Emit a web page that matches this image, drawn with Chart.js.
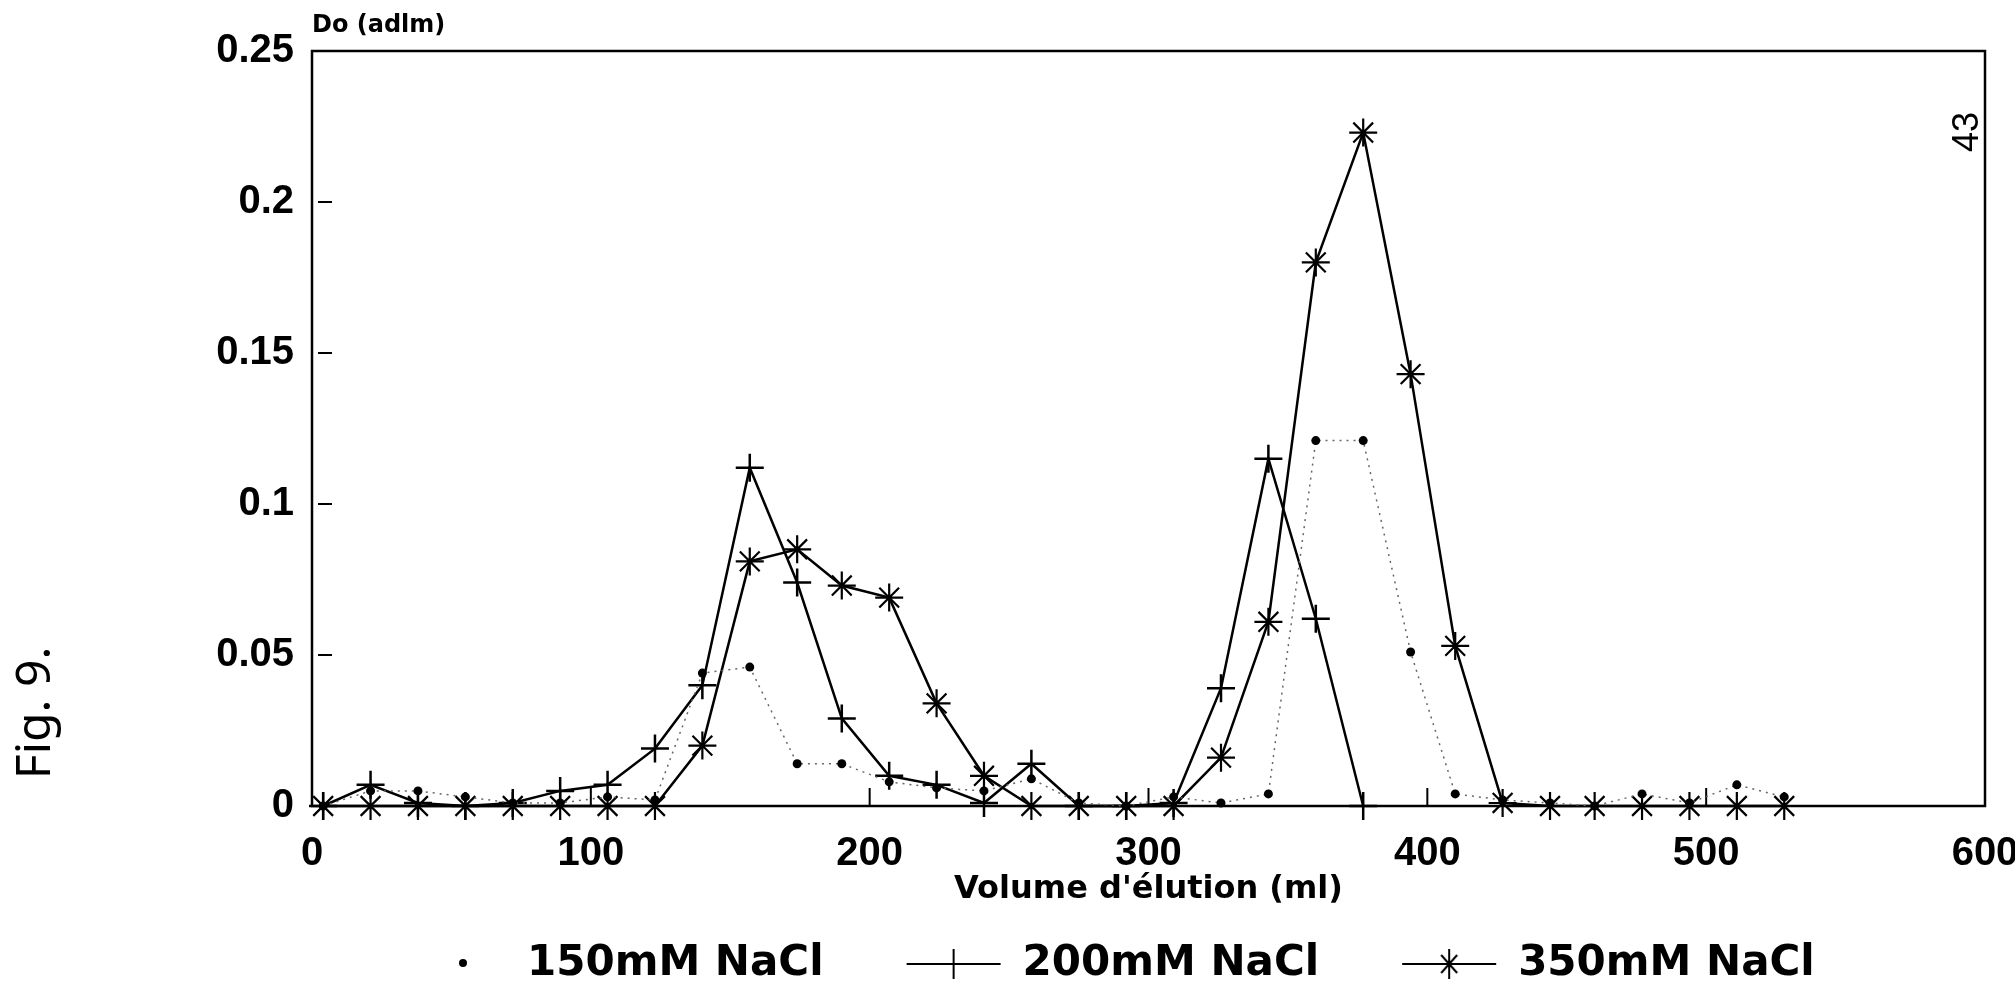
<!DOCTYPE html>
<html>
<head>
<meta charset="utf-8">
<title>Fig. 9 - Volume d'élution</title>
<script src="https://cdn.jsdelivr.net/npm/chart.js@4.4.0/dist/chart.umd.min.js"></script>
<style>
    html, body { margin: 0; padding: 0; background: #fff; overflow: hidden; }
    #wrap { position: absolute; left: 0; top: 0; width: 2060px; height: 997px; }
</style>
</head>
<body>
<div id="wrap"><canvas id="elutionChart"></canvas></div>
<script>
// Elution volume of each collected fraction (ml)
const volumes = [4, 21, 38, 55, 72, 89, 106, 123, 140, 157, 174, 190, 207, 224, 241, 258,
                 275, 292, 309, 326, 343, 360, 377, 394, 410, 427, 444, 460, 477, 494, 511, 528];

// Optical density (Do, adim)
const od150 = [0, 0.005, 0.005, 0.003, 0.001, 0.001, 0.003, 0.002, 0.044, 0.046, 0.014, 0.014, 0.008, 0.006, 0.005, 0.009,
               0.001, 0, 0.003, 0.001, 0.004, 0.121, 0.121, 0.051, 0.004, 0.002, 0.001, 0, 0.004, 0.001, 0.007, 0.003];
const od200 = [0, 0.007, 0.001, 0, 0.001, 0.005, 0.007, 0.019, 0.040, 0.112, 0.074, 0.029, 0.010, 0.007, 0.001, 0.014,
               0, 0, 0.001, 0.039, 0.115, 0.062, 0];
const od350 = [0, 0, 0, 0, 0, 0, 0, 0, 0.020, 0.081, 0.085, 0.073, 0.069, 0.034, 0.010, 0,
               0, 0, 0, 0.016, 0.061, 0.180, 0.223, 0.143, 0.053, 0.001, 0, 0, 0, 0, 0, 0];

const seriesLabels = ['150mM NaCl', '200mM NaCl', '350mM NaCl'];
const xTicks = [0, 100, 200, 300, 400, 500, 600];
const yTicks = [0, 0.05, 0.1, 0.15, 0.2, 0.25];

const WIDE = '"DejaVu Sans", sans-serif';
const HELV = '"Liberation Sans", Arial, sans-serif';

// pair each reading with its volume
function toPoints(values) {
    return values.map((v, i) => ({ x: volumes[i], y: v }));
}

// small pictures used as legend symbols (line + marker like the original)
function legendIcon(kind) {
    const c = document.createElement('canvas');
    c.width = 160;
    c.height = 40;
    const g = c.getContext('2d');
    g.strokeStyle = '#000';
    g.fillStyle = '#000';
    g.lineWidth = 2;
    if (kind === 'dot') {
        g.beginPath();
        g.arc(117, 19, 4, 0, Math.PI * 2);
        g.fill();
        return c;
    }
    g.beginPath();
    g.moveTo(65, 20);
    g.lineTo(159, 20);
    g.moveTo(112, 5);
    g.lineTo(112, 35);
    if (kind === 'star') {
        g.moveTo(104, 11); g.lineTo(120, 29);
        g.moveTo(120, 11); g.lineTo(104, 29);
    }
    g.stroke();
    return c;
}
const legendIcons = [legendIcon('dot'), legendIcon('plus'), legendIcon('star')];

// box round the plot, inner tick marks and the loose annotations
const framePlugin = {
    id: 'framePlugin',
    afterLayout(chart) {
        // the legend row starts a little right of the plot's left edge
        if (chart.legend) {
            chart.legend.left += 16;
            chart.legend.right += 16;
        }
    },
    beforeDatasetsDraw(chart) {
        const { ctx, chartArea: a, scales } = chart;
        ctx.save();
        ctx.strokeStyle = '#000';
        ctx.lineWidth = 2.5;
        ctx.strokeRect(a.left, a.top, a.right - a.left, a.bottom - a.top);
        ctx.lineWidth = 2;
        ctx.beginPath();
        xTicks.slice(1, -1).forEach(v => {
            const px = scales.x.getPixelForValue(v);
            ctx.moveTo(px, a.bottom);
            ctx.lineTo(px, a.bottom - 18);
        });
        yTicks.slice(1, -1).forEach(v => {
            const py = scales.y.getPixelForValue(v);
            ctx.moveTo(a.left + 6, py);
            ctx.lineTo(a.left + 20, py);
        });
        ctx.stroke();
        ctx.restore();
    },
    afterDraw(chart) {
        const { ctx, chartArea: a } = chart;
        ctx.save();
        ctx.fillStyle = '#000';
        ctx.font = 'bold 24px ' + WIDE;
        ctx.textAlign = 'left';
        ctx.textBaseline = 'alphabetic';
        ctx.fillText('Do (adlm)', a.left, a.top - 19);

        // page number, turned on its side
        ctx.save();
        ctx.translate(a.right - 17, a.top + 81);
        ctx.rotate(-Math.PI / 2);
        ctx.textAlign = 'center';
        ctx.textBaseline = 'middle';
        ctx.font = '36px ' + HELV;
        ctx.fillText('43', 0, 0);
        ctx.restore();

        // figure caption along the left edge
        ctx.save();
        ctx.translate(36, 713);
        ctx.rotate(-Math.PI / 2);
        ctx.textAlign = 'center';
        ctx.textBaseline = 'middle';
        ctx.font = '48px "Noto Sans", ' + WIDE;
        ctx.fillText('Fig. 9.', 0, 0);
        ctx.restore();
        ctx.restore();
    }
};

const ctx = document.getElementById('elutionChart').getContext('2d');
new Chart(ctx, {
    type: 'line',
    data: {
        datasets: [
            {
                label: seriesLabels[0],
                data: toPoints(od150),
                borderColor: '#666',
                borderWidth: 1.5,
                borderDash: [2, 5],
                pointStyle: 'circle',
                pointRadius: 4.5,
                pointBackgroundColor: '#000',
                pointBorderColor: '#000',
                pointBorderWidth: 0,
                clip: false
            },
            {
                label: seriesLabels[1],
                data: toPoints(od200),
                borderColor: '#000',
                borderWidth: 2.5,
                pointStyle: 'cross',
                pointRadius: 14,
                pointBorderColor: '#000',
                pointBorderWidth: 2.5,
                clip: false
            },
            {
                label: seriesLabels[2],
                data: toPoints(od350),
                borderColor: '#000',
                borderWidth: 2.5,
                pointStyle: 'star',
                pointRadius: 14,
                pointBorderColor: '#000',
                pointBorderWidth: 2.2,
                clip: false
            }
        ]
    },
    options: {
        responsive: true,
        maintainAspectRatio: false,
        devicePixelRatio: 1,
        animation: false,
        layout: { padding: { top: 51, right: 75, left: 0, bottom: 2 } },
        scales: {
            x: {
                type: 'linear',
                min: 0,
                max: 600,
                border: { display: false },
                grid: { display: false, drawTicks: false },
                ticks: {
                    stepSize: 100,
                    padding: 24,
                    color: '#000',
                    font: { family: HELV, size: 40, weight: 'bold' },
                    maxRotation: 0
                },
                title: {
                    display: true,
                    text: "Volume d'élution (ml)",
                    color: '#000',
                    font: { family: WIDE, size: 32, weight: 'bold' },
                    padding: { top: 0, bottom: 16 }
                },
                afterFit(scale) { scale.height = 119; }
            },
            y: {
                min: 0,
                max: 0.25,
                border: { display: false },
                grid: { display: false, drawTicks: false },
                ticks: {
                    stepSize: 0.05,
                    padding: 18,
                    color: '#000',
                    font: { family: HELV, size: 40, weight: 'bold' },
                    callback: v => String(+v.toFixed(2))
                },
                afterFit(scale) { scale.width = 312; }
            }
        },
        plugins: {
            tooltip: { enabled: false },
            legend: {
                position: 'bottom',
                align: 'start',
                fullSize: false,
                labels: {
                    usePointStyle: true,
                    pointStyleWidth: 160,
                    padding: 18,
                    color: '#000',
                    font: { family: WIDE, size: 42, weight: 'bold' },
                    generateLabels(chart) {
                        return chart.data.datasets.map((ds, i) => ({
                            text: ds.label,
                            pointStyle: legendIcons[i],
                            fillStyle: '#000',
                            strokeStyle: '#000',
                            fontColor: '#000',
                            lineWidth: 0,
                            hidden: false,
                            datasetIndex: i
                        }));
                    }
                }
            }
        }
    },
    plugins: [framePlugin]
});
</script>
</body>
</html>
